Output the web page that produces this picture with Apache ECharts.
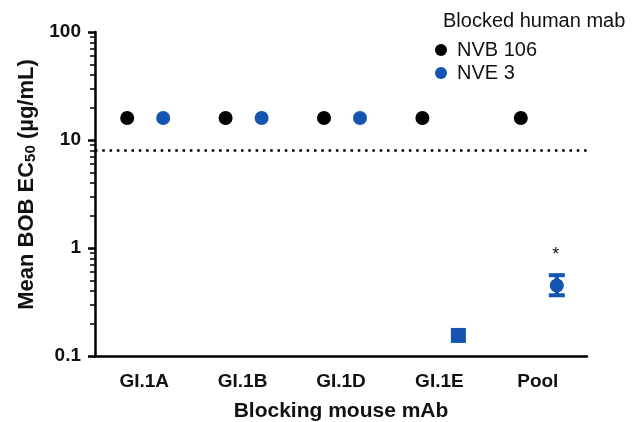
<!DOCTYPE html>
<html><head><meta charset="utf-8">
<script src="https://cdn.jsdelivr.net/npm/echarts@6/dist/echarts.min.js"></script>
<style>html,body{margin:0;padding:0;background:#fff}#c{width:638px;height:422px}</style>
</head><body><div id="c"></div>
<script>
const categories = ['GI.1A', 'GI.1B', 'GI.1D', 'GI.1E', 'Pool'];
const nvb106 = [16, 16, 16, 16, 16];
const nve3Circle = [16, 16, 16, null, 0.45];
const nve3Square = [null, null, null, 0.155, null];
const poolErrLow = [null, null, null, null, 0.365];
const poolErrHigh = [null, null, null, null, 0.56];
const thresholdValue = 8;
const yTicks = [0.1, 1, 10, 100];

const BLUE = '#1554b0';
const FONT = 'Liberation Sans, Arial, sans-serif';
const chart = echarts.init(document.getElementById('c'));

const errData = categories.map((c, i) => poolErrLow[i] == null ? null : [i, poolErrLow[i], poolErrHigh[i]]).filter(d => d);

chart.setOption({
  animation: false,
  textStyle: { fontFamily: FONT },
  grid: { left: 95, right: 51, top: 32, bottom: 66, containLabel: false, outerBoundsMode: 'none' },
  title: {
    text: 'Blocked human mab', left: 438, top: 6,
    textStyle: { fontFamily: FONT, fontSize: 20, fontWeight: 'normal', color: '#111' }
  },
  legend: {
    orient: 'vertical', left: 430, top: 35, itemGap: 3,
    icon: 'circle', itemWidth: 12, itemHeight: 12,
    data: ['NVB 106', 'NVE 3'],
    textStyle: { fontFamily: FONT, fontSize: 20, color: '#111', padding: [0, 0, 0, 5] }
  },
  xAxis: {
    type: 'category', data: categories, boundaryGap: true,
    name: 'Blocking mouse mAb', nameLocation: 'middle', nameGap: 45,
    nameTextStyle: { fontFamily: FONT, fontSize: 21, fontWeight: 'bold', color: '#111' },
    axisLine: { lineStyle: { color: '#000', width: 2.5 } },
    axisTick: { alignWithLabel: true, length: 7, lineStyle: { color: '#000', width: 2.5 } },
    axisLabel: { fontFamily: FONT, fontSize: 19, fontWeight: 'bold', color: '#111', margin: 16 }
  },
  yAxis: {
    type: 'log', logBase: 10, min: 0.1, max: 100,
    name: '{a|Mean BOB EC}{s|50}{a| (µg/mL)}', nameLocation: 'middle', nameGap: 57, nameRotate: 90,
    nameTextStyle: { padding: [0, 0, 0, 19], rich: {
      a: { fontFamily: FONT, fontSize: 22, fontWeight: 'bold', color: '#111' },
      s: { fontFamily: FONT, fontSize: 15, fontWeight: 'bold', color: '#111', verticalAlign: 'bottom', padding: [8, 0, 0, 0] }
    } },
    axisLine: { show: true, lineStyle: { color: '#000', width: 2.5 } },
    axisTick: { show: true, length: 7, lineStyle: { color: '#000', width: 2.5 } },
    minorTick: { show: true, splitNumber: 9, length: 5, lineStyle: { color: '#000', width: 1.5 } },
    splitLine: { show: false },
    axisLabel: { fontFamily: FONT, fontSize: 19, fontWeight: 'bold', color: '#111', margin: 14,
      formatter: v => yTicks.some(t => Math.abs(t - v) < 1e-9) ? String(v) : '' }
  },
  series: [
    {
      name: 'NVB 106', type: 'scatter', data: nvb106, symbol: 'circle', symbolSize: 14,
      symbolOffset: [-17, 0], itemStyle: { color: '#000', opacity: 1 }, z: 3,
      markLine: {
        silent: true, symbol: 'none', label: { show: false },
        lineStyle: { color: '#000', type: [2.5, 4.8], width: 2.5 },
        data: [{ yAxis: thresholdValue }]
      }
    },
    {
      name: 'NVE 3', type: 'scatter', data: nve3Circle, symbol: 'circle', symbolSize: 14,
      symbolOffset: [19, 0], itemStyle: { color: BLUE, opacity: 1 }, z: 3
    },
    {
      name: 'NVE 3 square', type: 'scatter', data: nve3Square, symbol: 'rect', symbolSize: 15,
      symbolOffset: [19, 0], itemStyle: { color: BLUE, opacity: 1 }, z: 3
    },
    {
      name: 'err', type: 'custom', data: errData, z: 4,
      renderItem: (params, api) => {
        const lo = api.coord([api.value(0), api.value(1)]);
        const hi = api.coord([api.value(0), api.value(2)]);
        const x = lo[0] + 19;
        const style = { stroke: BLUE, lineWidth: 4 };
        return { type: 'group', children: [
          { type: 'line', shape: { x1: x, y1: hi[1], x2: x, y2: lo[1] }, style },
          { type: 'line', shape: { x1: x - 8, y1: hi[1], x2: x + 8, y2: hi[1] }, style },
          { type: 'line', shape: { x1: x - 8, y1: lo[1], x2: x + 8, y2: lo[1] }, style },
          { type: 'text', style: { text: '*', x: x - 1, y: hi[1] - 20, align: 'center', verticalAlign: 'middle',
            font: '18px ' + FONT, fill: '#111' } }
        ] };
      }
    }
  ]
});
</script></body></html>
